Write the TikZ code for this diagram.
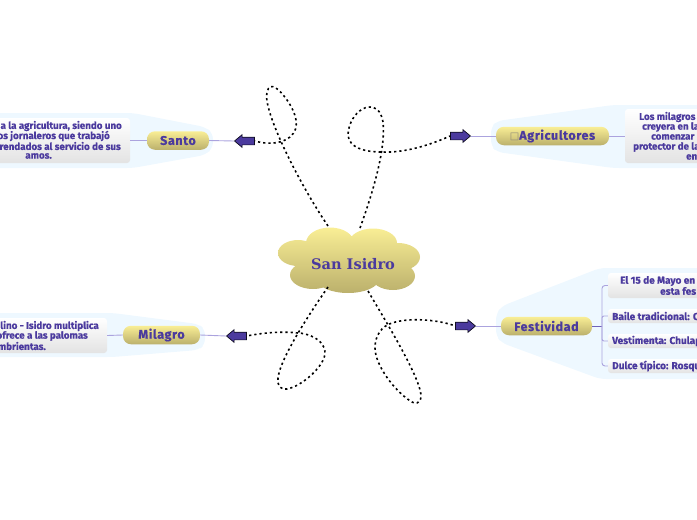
\documentclass[tikz,border=0pt]{standalone}
\usepackage{fontspec}
\setmainfont{Fira Sans}
\newfontfamily\cloudfont{DejaVu Serif}
\newfontfamily\symfont{DejaVu Sans}
\newfontfamily\pillfont[LetterSpace=5,FakeBold=0.6]{Fira Sans Bold}
\newfontfamily\leaffont[FakeBold=0.6]{Fira Sans Bold}
\usetikzlibrary{shapes.arrows}
\definecolor{ink}{HTML}{4B3A9E}
\definecolor{halo}{HTML}{EEF8FF}
\definecolor{linkc}{HTML}{ABA3DE}
\definecolor{stem}{HTML}{6F63B8}
\definecolor{PillTop}{HTML}{F9EE95}
\definecolor{PillBot}{HTML}{BBB06C}
\definecolor{boxglyph}{HTML}{8F8A7A}
\tikzset{
  halobg/.style={fill=halo,draw=none,rounded corners=6pt},
  pill/.style={rounded corners=8pt,minimum height=18.5pt,inner sep=0pt,top color=PillTop,bottom color=PillBot,draw=none,text=ink,font=\pillfont\fontsize{12.5}{13}\selectfont},
  leaf/.style={rounded corners=3pt,top color=white,bottom color=gray!22,draw=none,inner sep=0pt},
  leaftext/.style={text=ink,font=\leaffont\fontsize{9.8}{10}\selectfont,inner sep=0pt},
  widetext/.style={leaftext,font=\leaffont\fontsize{10.05}{11}\selectfont},
  linkline/.style={draw=linkc,line width=.9pt},
  loopline/.style={draw=black,line width=1.6pt,dash pattern=on 2.2pt off 3pt},
  marker/.style={single arrow,draw=black!80!ink,fill=ink,line width=.7pt,minimum height=20pt,minimum width=12pt,inner xsep=0pt,inner ysep=3.5pt,single arrow head extend=2.5pt,single arrow tip angle=80,anchor=tip},
}
\begin{document}
\begin{tikzpicture}[x=1pt,y=-1pt]
\useasboundingbox (0,0) rectangle (697,520);
\clip (0,0) rectangle (697,520);
% halos
\fill[halobg] (-10,113) -- (133,113) -- (205,127) -- (213,133) -- (213,148) -- (205,155) -- (133,168) -- (-10,168) -- cycle;
\fill[halobg] (707,105) -- (613,105) -- (497,121) -- (491,127) -- (491,146) -- (497,152) -- (613,168) -- (707,168) -- cycle;
\fill[halobg] (707,268) -- (600,268) -- (502,306) -- (496,314) -- (496,336) -- (502,343) -- (600,379) -- (707,379) -- cycle;
\fill[halobg] (-10,313) -- (113,313) -- (198,324) -- (205,329) -- (205,345) -- (198,350) -- (113,357) -- (-10,357) -- cycle;
% cloud
\path[top color=PillTop,bottom color=PillBot]
  (330,243) ellipse[x radius=24,y radius=15.5]
  (373,243) ellipse[x radius=24,y radius=14.5]
  (298,253) ellipse[x radius=20,y radius=13]
  (398,257) ellipse[x radius=22,y radius=14]
  (313,275) ellipse[x radius=23,y radius=14]
  (348,279) ellipse[x radius=31,y radius=14]
  (393,276) ellipse[x radius=22,y radius=14]
  (348,260) ellipse[x radius=50,y radius=22];
\node[inner sep=0pt,text=ink,font=\cloudfont\bfseries\fontsize{14.6}{15}\selectfont] (root) at (353,264) {San Isidro};
% leaf boxes
\node[leaf,minimum width=150pt,minimum height=45pt] (sBox) at (55,140.5) {};
\node[leaf,minimum width=100pt,minimum height=54pt] (aBox) at (675,136) {};
\node[leaf,minimum width=120pt,minimum height=35pt] (mBox) at (47,335.5) {};
\node[leaf,minimum width=110pt,minimum height=25pt] (f1) at (663,285.5) {};
\node[leaf,minimum width=110pt,minimum height=14pt] (f2) at (663,316) {};
\node[leaf,minimum width=110pt,minimum height=14pt] (f3) at (663,341) {};
\node[leaf,minimum width=110pt,minimum height=14pt] (f4) at (663,366) {};
% leaf texts
\node[leaftext,anchor=east] (s1) at (122,126) {a la agricultura, siendo uno};
\node[leaftext,anchor=east] (s2) at (110,136) {os jornaleros que trabajó};
\node[leaftext,anchor=east] (s3) at (121,146) {rrendados al servicio de sus};
\node[leaftext,anchor=east] (s4) at (52,156) {amos.};
\node[leaftext,anchor=west] (a1) at (639,117) {Los milagros};
\node[leaftext,anchor=west] (a2) at (642,127) {creyera en la};
\node[leaftext,anchor=west] (a3) at (651,137) {comenzar};
\node[leaftext,anchor=west] (a4) at (633,147) {protector de la};
\node[leaftext,anchor=west] (a5) at (686,157) {en};
\node[leaftext,anchor=east] (m1) at (99,326) {lino - Isidro multiplica};
\node[leaftext,anchor=east] (m2) at (88,336) {ofrece a las palomas};
\node[leaftext,anchor=east] (m3) at (46,346) {mbrientas.};
\node[widetext,anchor=west] (t1) at (620,281) {El 15 de Mayo en};
\node[widetext,anchor=west] (t2) at (660,291) {esta fes};
\node[widetext,anchor=west] (t3) at (612,316) {Baile tradicional: C};
\node[widetext,anchor=west] (t4) at (612,341) {Vestimenta: Chulap};
\node[widetext,anchor=west] (t5) at (612,366) {Dulce típico: Rosqu};
% topic pills
\node[pill,minimum width=62pt] (santo) at (178,140.5) {Santo};
\node[pill,minimum width=113pt] (agri) at (552.5,136) {{\symfont\mdseries\color{boxglyph}\fontsize{10}{11}\selectfont □}Agricultores};
\node[pill,minimum width=77pt] (mila) at (161.5,335) {Milagro};
\node[pill,minimum width=91pt] (fest) at (546.5,326) {Festividad};
% markers
\node[marker,shape border rotate=180] (sArrow) at (234,141) {};
\node[marker] (aArrow) at (471,136) {};
\node[marker,shape border rotate=180] (mArrow) at (226,336) {};
\node[marker] (fArrow) at (476,326) {};
% thin links
\draw[linkline] (sArrow.tip) -- (santo.east);
\draw[linkline] (santo.west) -- (sBox.east);
\draw[linkline] (aArrow.tip) -- (agri.west);
\draw[linkline] (agri.east) -- (aBox.west);
\draw[linkline] (mArrow.tip) -- (mila.east);
\draw[linkline] (mila.west) -- (mBox.east);
\draw[linkline] (fArrow.tip) -- (fest.west);
\coordinate (fork) at (602,326);
\draw[draw=stem,line width=1pt] (fest.east) -- (fork);
\draw[linkline,rounded corners=3pt] (f1.west) -| (fork);
\draw[linkline,rounded corners=3pt] (f4.west) -| (fork);
\draw[linkline,rounded corners=2pt] (f2.west) -| (fork);
\draw[linkline,rounded corners=2pt] (f3.west) -| (fork);
% looping connectors
\coordinate (rootNW) at (328,226);
\coordinate (rootNE) at (360,228);
\coordinate (rootSW) at (328,287);
\coordinate (rootSE) at (368,291);
\draw[loopline] (rootNW) .. controls (300,185) and (262,110) .. (267,92) .. controls (270,80) and (280,90) .. (287,100) .. controls (296,113) and (301,128) .. (290,137) .. controls (280,145) and (265,144) .. (sArrow.tail);
\draw[loopline] (rootNE) .. controls (372,195) and (386,150) .. (383,122) .. controls (381,110) and (375,107) .. (370,107) .. controls (358,107) and (348,122) .. (348,135) .. controls (349,148) and (365,152) .. (382,152) .. controls (405,153) and (430,145) .. (aArrow.tail);
\draw[loopline] (rootSW) .. controls (305,320) and (280,360) .. (278,378) .. controls (277,387) and (282,390) .. (287,389) .. controls (303,386) and (325,365) .. (325,353) .. controls (325,338) and (305,333) .. (298,333) .. controls (280,331) and (262,333) .. (mArrow.tail);
\draw[loopline] (rootSE) .. controls (385,320) and (422,380) .. (421,397) .. controls (420,404) and (415,404) .. (412,402) .. controls (395,392) and (375,365) .. (375,348) .. controls (375,335) and (382,326) .. (392,323) .. controls (410,317) and (440,320) .. (fArrow.tail);
\end{tikzpicture}
\end{document}
